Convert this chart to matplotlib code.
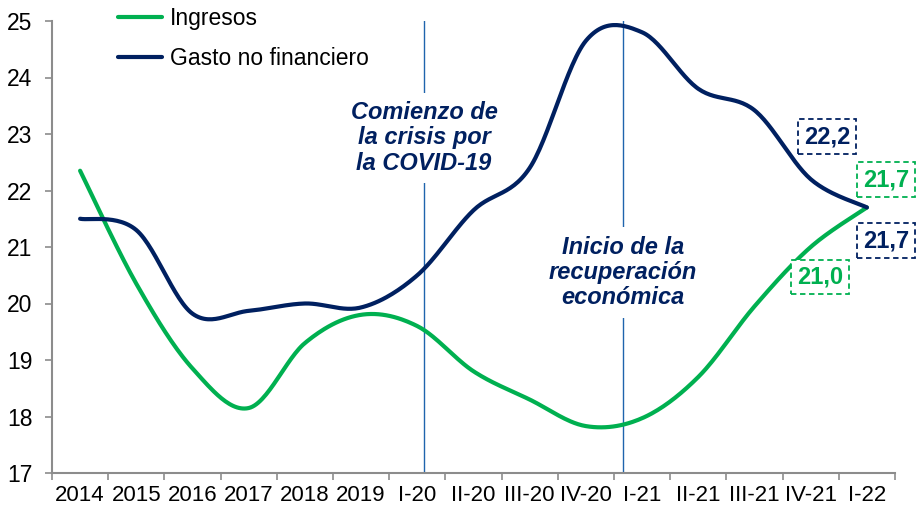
import numpy as np
import matplotlib
matplotlib.use("Agg")
import matplotlib.pyplot as plt

periodos = ['2014', '2015', '2016', '2017', '2018', '2019', 'I-20', 'II-20',
            'III-20', 'IV-20', 'I-21', 'II-21', 'III-21', 'IV-21', 'I-22']
ingresos = [22.35, 20.35, 18.85, 18.15, 19.3, 19.8, 19.6, 18.8,
            18.3, 17.83, 17.97, 18.7, 19.95, 21.0, 21.7]
gasto = [21.5, 21.3, 19.82, 19.87, 20.0, 19.93, 20.5, 21.65,
         22.4, 24.65, 24.8, 23.8, 23.42, 22.2, 21.7]

VERDE = '#00B050'
AZUL = '#002060'
LINEA = '#1f64ad'


def suavizar(y, n=30):
    # curva tipo Excel: Bezier con puntos de control Catmull-Rom
    x = np.arange(len(y), dtype=float)
    y = np.asarray(y, dtype=float)
    pts = np.column_stack([x, y])
    ext = np.vstack([pts[0], pts, pts[-1]])
    out = []
    t = np.linspace(0, 1, n)[:, None]
    for i in range(len(pts) - 1):
        p0, p1, p2, p3 = ext[i], ext[i + 1], ext[i + 2], ext[i + 3]
        c1 = p1 + (p2 - p0) / 6
        c2 = p2 - (p3 - p1) / 6
        seg = ((1 - t) ** 3) * p1 + 3 * ((1 - t) ** 2) * t * c1 + 3 * (1 - t) * t ** 2 * c2 + t ** 3 * p2
        out.append(seg if i == 0 else seg[1:])
    out = np.vstack(out)
    return out[:, 0], out[:, 1]


plt.rcParams['font.family'] = ['Liberation Sans', 'DejaVu Sans']

fig = plt.figure(figsize=(9.16, 5.08), dpi=100)
ax = fig.add_axes([52 / 916, 1 - 473 / 508, 843 / 916, 452 / 508])

xs, ys = suavizar(ingresos)
ax.plot(xs, ys, color=VERDE, lw=3, solid_capstyle='round', label='Ingresos', zorder=3)
xs, ys = suavizar(gasto)
ax.plot(xs, ys, color=AZUL, lw=3, solid_capstyle='round', label='Gasto no financiero', zorder=3)

# lineas verticales
for xv in [6.12, 9.66]:
    ax.axvline(xv, color=LINEA, lw=1, zorder=1)

ax.set_xlim(-0.5, len(periodos) - 0.5)
ax.set_ylim(17, 25)
ax.set_yticks(range(17, 26))
ax.set_xticks(range(len(periodos)))
ax.set_xticklabels(periodos)
ax.set_xticks(np.arange(-0.5, len(periodos)), minor=True)
ax.tick_params(axis='x', which='major', length=0, pad=8.5, labelsize=16)
ax.tick_params(axis='x', which='minor', length=5, width=1.2, color='#8c8c8c')
ax.tick_params(axis='y', length=5, width=1.2, color='#8c8c8c', pad=9, labelsize=16.5)

for s in ['top', 'right']:
    ax.spines[s].set_visible(False)
for s in ['left', 'bottom']:
    ax.spines[s].set_color('#8c8c8c')
    ax.spines[s].set_linewidth(1.5)

ax.legend(loc='upper left', bbox_to_anchor=(118 / 916, 1 - 7 / 508), bbox_transform=fig.transFigure,
          frameon=False, fontsize=16.5, handlelength=1.9, handletextpad=0.35,
          labelspacing=0.75, borderpad=0, borderaxespad=0)

bb = dict(facecolor='white', edgecolor='none', pad=6)
ax.text(6.12, 22.93, 'Comienzo de\nla crisis por\nla COVID-19', ha='center', va='center',
        color=AZUL, fontsize=17, fontweight='bold', style='italic', linespacing=1.13,
        bbox=bb, zorder=2)
ax.text(9.66, 20.55, 'Inicio de la\nrecuperación\neconómica', ha='center', va='center',
        color=AZUL, fontsize=17, fontweight='bold', style='italic', linespacing=1.13,
        bbox=bb, zorder=2)

# etiquetas de valores
etiquetas = [
    (13.29, 22.95, gasto[13], AZUL),
    (14.34, 22.19, ingresos[14], VERDE),
    (14.34, 21.11, gasto[14], AZUL),
    (13.17, 20.47, ingresos[13], VERDE),
]
for x, y, v, c in etiquetas:
    ax.text(x, y, f'{v:.1f}'.replace('.', ','), ha='center', va='center', color=c,
            fontsize=17, fontweight='bold', clip_on=False, zorder=4,
            bbox=dict(boxstyle='square,pad=0.25', facecolor='white', edgecolor=c,
                      linestyle=(0, (3, 2)), linewidth=1.3))

fig.savefig('out.png', dpi=100)
